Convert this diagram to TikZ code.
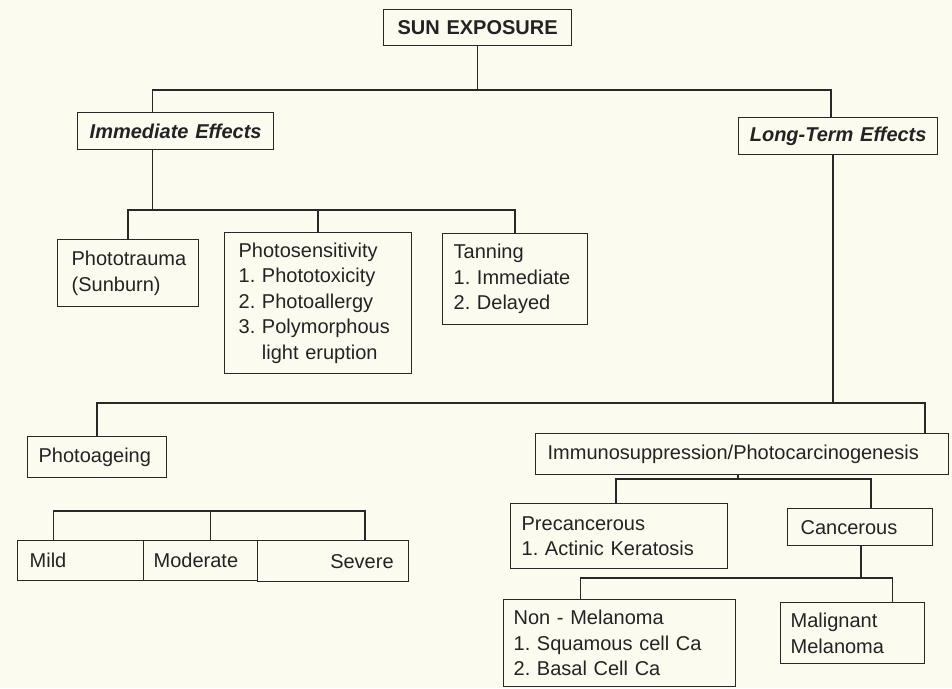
\documentclass[tikz,border=0pt]{standalone}
\usepackage{fontspec}
\setmainfont{Liberation Sans}
\frenchspacing
\definecolor{bg}{RGB}{252,251,240}
\definecolor{linec}{RGB}{40,40,40}
\definecolor{txt}{RGB}{35,35,35}
\tikzset{
  box/.style={draw=linec, line width=1.3pt, anchor=north west, align=left,
    inner ysep=0pt, text=txt, font=\fontsize{20}{25.5}\selectfont},
  hbox/.style={box, align=center, inner xsep=0pt, font=\fontsize{20}{25}\selectfont\bfseries},
  ln/.style={draw=linec, line width=1.4pt},
}
\begin{document}
\begin{tikzpicture}[x=1pt,y=-1pt]
\fill[bg] (0,0) rectangle (952,688);
\useasboundingbox (0,0) rectangle (952,688);

% level 0 and 1
\node[hbox, text width=188pt, minimum height=36pt] (sun) at (383,9) {SUN EXPOSURE};
\node[hbox, text width=196pt, minimum height=37pt, font=\fontsize{20}{25}\selectfont\bfseries\itshape] (imm) at (77,112) {Immediate Effects};
\node[hbox, text width=199pt, minimum height=37pt, font=\fontsize{20}{25}\selectfont\bfseries\itshape] (lte) at (738,117) {Long-Term Effects};

% immediate effects children
\node[box, inner xsep=14pt, text width=113pt, minimum height=67pt] (photr) at (57,239) {Phototrauma\\(Sunburn)};
\node[box, inner xsep=14pt, text width=159pt, minimum height=141pt] (phsen) at (224,232)
  {Photosensitivity\\1. Phototoxicity\\2. Photoallergy\\3. Polymorphous\\\phantom{3. }light eruption};
\node[box, inner xsep=11pt, text width=123pt, minimum height=91pt] (tan) at (442,233) {Tanning\\1. Immediate\\2. Delayed};

% long-term effects children
\node[box, inner xsep=11pt, text width=117pt, minimum height=41pt] (page) at (27,436) {Photoageing};
\node[box, inner xsep=12pt, text width=389pt, minimum height=41pt] (imus) at (535,433) {Immunosuppression/Photocarcinogenesis};

% photoageing children
\node[box, inner xsep=12pt, text width=102pt, minimum height=40pt] (mild) at (17,540) {Mild};
\node[box, inner xsep=10pt, text width=94pt, minimum height=40pt] (mod) at (143,540) {Moderate};
\node[box, align=right, inner xsep=15pt, text width=121pt, minimum height=41pt] (sev) at (257,540) {Severe};

% immunosuppression children
\node[box, inner xsep=11pt, text width=195pt, minimum height=65pt] (prec) at (510,503) {Precancerous\\1. Actinic Keratosis};
\node[box, inner xsep=13pt, text width=119pt, minimum height=37pt] (canc) at (787,508) {Cancerous};

% cancerous children
\node[box, inner xsep=10pt, text width=212pt, minimum height=87pt] (nonm) at (503,599) {Non - Melanoma\\1. Squamous cell Ca\\2. Basal Cell Ca};
\node[box, inner xsep=10pt, text width=124pt, minimum height=61pt] (mal) at (780,602) {Malignant\\Melanoma};

% bus levels
\coordinate (b1) at (0,90);
\coordinate (b2) at (0,210);
\coordinate (b3) at (0,403);
\coordinate (b4) at (0,479);
\coordinate (b5) at (0,578);
\coordinate (b6) at (0,511);

% connectors
\draw[ln] (sun.south) -- (sun.south |- b1);
\draw[ln] ([xshift=-23pt]imm.north) |- ([xshift=-7pt]lte.north |- b1) -- ([xshift=-7pt]lte.north);

\draw[ln] ([xshift=-23pt]imm.south) -- ([xshift=-23pt]imm.south |- b2);
\draw[ln] (photr.north) |- (tan.north |- b2) -- (tan.north);
\draw[ln] (phsen.north) -- (phsen.north |- b2);

\draw[ln] ([xshift=-5pt]lte.south) -- ([xshift=-5pt]lte.south |- b3);
\draw[ln] (page.north) |- ([xshift=183pt]imus.north |- b3) -- ([xshift=183pt]imus.north);

\draw[ln] ([xshift=-27pt]mild.north) |- ([xshift=32pt]sev.north |- b6) -- ([xshift=32pt]sev.north);
\draw[ln] ([xshift=10pt]mod.north) -- ([xshift=10pt]mod.north |- b6);

\draw[ln] ([xshift=-4pt]imus.south) -- ([xshift=-4pt]imus.south |- b4);
\draw[ln] ([xshift=-3pt]prec.north) |- ([xshift=11pt]canc.north |- b4) -- ([xshift=11pt]canc.north);

\draw[ln] ([xshift=1pt]canc.south) -- ([xshift=1pt]canc.south |- b5);
\draw[ln] ([xshift=-39pt]nonm.north) |- ([xshift=40pt]mal.north |- b5) -- ([xshift=40pt]mal.north);
\end{tikzpicture}
\end{document}
